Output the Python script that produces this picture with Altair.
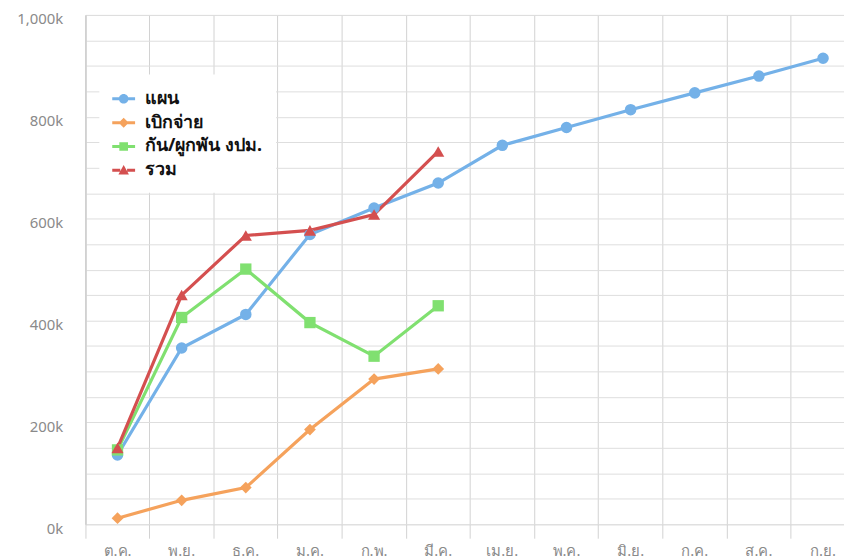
import altair as alt
import pandas as pd

months = ["ต.ค.", "พ.ย.", "ธ.ค.", "ม.ค.", "ก.พ.", "มี.ค.", "เม.ย.", "พ.ค.", "มิ.ย.", "ก.ค.", "ส.ค.", "ก.ย."]
series_names = ["แผน", "เบิกจ่าย", "กัน/ผูกพัน งปม.", "รวม"]
plan = [136000, 346000, 412000, 569000, 621000, 670000, 744000, 779000, 814000, 847000, 880000, 915000]
disbursed = [12000, 47000, 72000, 186000, 285000, 305000]
committed = [146000, 406000, 501000, 396000, 330000, 429000]
total = [150000, 450000, 567000, 577000, 608000, 732000]

colors = ["#74b1e8", "#f5a25c", "#80e070", "#d44f4f"]
shapes = ["circle", "diamond", "square", "triangle-up"]
marker_sizes = [135, 140, 130, 150]

rows = []
for name, vals in zip(series_names, [plan, disbursed, committed, total]):
    for m, v in zip(months, vals):
        rows.append({"month": m, "series": name, "value": v})
df = pd.DataFrame(rows)

W = 764
BAND = 64.6
X_RANGE = [0, BAND * 12]

# legend symbols: a short line with the marker in its middle
line_l = "M-1,-0.13 H-0.3 V0.13 H-1 Z"
line_r = "M0.3,-0.13 H1 V0.13 H0.3 Z"
circle = "M0.42,0 A0.42,0.42 0 1,1 -0.42,0 A0.42,0.42 0 1,1 0.42,0 Z"
diamond = "M0,-0.44 L0.44,0 L0,0.44 L-0.44,0 Z"
square = "M-0.38,-0.38 H0.38 V0.38 H-0.38 Z"
tri = "M0,-0.46 L0.46,0.36 L-0.46,0.36 Z"
legend_paths = [line_l + " " + line_r + " " + p for p in [circle, diamond, square, tri]]

legend = alt.Legend(
    title=None, orient="none", legendX=14, legendY=60, fillColor="white", padding=13,
    labelFontSize=18, labelFontWeight="bold", labelColor="#111111", labelFont="Noto Sans",
    symbolSize=529, labelOffset=10, rowPadding=3, symbolStrokeWidth=0, labelLimit=300,
)

x_enc = alt.X(
    "month:N", sort=months, title=None,
    scale=alt.Scale(type="band", paddingInner=0, paddingOuter=0, range=X_RANGE),
    axis=alt.Axis(
        bandPosition=0, grid=True, gridColor="#d2d2d2",
        tickColor="#d2d2d2", tickSize=14, domain=False, labelAngle=0,
        labelFontSize=15, labelColor="#8a8a8a", labelPadding=5, labelFont="Noto Sans",
    ),
)
y_enc = alt.Y(
    "value:Q", title=None,
    scale=alt.Scale(domain=[0, 1000000], nice=False),
    axis=alt.Axis(
        values=list(range(0, 1000001, 50000)),
        labelExpr="datum.value % 200000 == 0 ? format(datum.value/1000, ',') + 'k' : ''",
        gridColor="#dedede", ticks=False, domainColor="#c8c8c8",
        labelFontSize=15, labelColor="#8a8a8a", labelPadding=23, labelFont="Noto Sans",
        labelOffset=4,
    ),
)
color_enc = alt.Color(
    "series:N", sort=series_names,
    scale=alt.Scale(domain=series_names, range=colors), legend=legend,
)

base = alt.Chart(df)
layers = [base.mark_line(strokeWidth=3.2).encode(x=x_enc, y=y_enc, color=color_enc)]
for name, shp, sz in zip(series_names, shapes, marker_sizes):
    layers.append(
        base.transform_filter(alt.datum.series == name)
        .mark_point(filled=True, size=sz, opacity=1, shape=shp)
        .encode(x=x_enc, y=y_enc, color=color_enc)
    )
layers.append(
    base.transform_filter("false").mark_point(filled=True, opacity=1).encode(
        x=x_enc, y=y_enc, color=color_enc,
        shape=alt.Shape("series:N", sort=series_names,
                        scale=alt.Scale(domain=series_names, range=legend_paths), legend=legend),
    )
)

chart = (
    alt.layer(*layers)
    .properties(
        width=W, height=513,
        autosize=alt.AutoSizeParams(type="none"),
        padding={"left": 78, "top": 5, "right": 0, "bottom": 34},
    )
    .configure_view(stroke=None)
    .configure(background="white")
)

chart.save("out.html", embed_options={"renderer": "svg", "actions": False})
